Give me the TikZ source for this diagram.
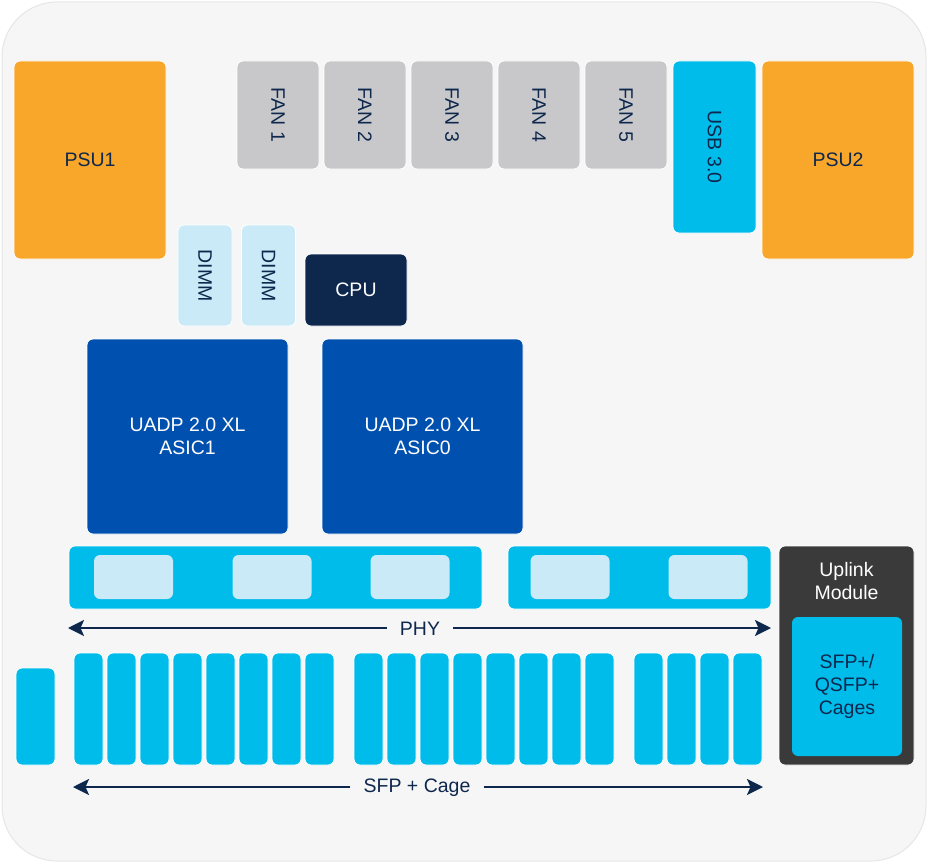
\documentclass[tikz,border=0pt]{standalone}
\usepackage{fontspec}
\usepackage{graphicx}
\setmainfont{Liberation Sans}
\usetikzlibrary{arrows.meta}
\definecolor{bgfill}{HTML}{F6F6F6}
\definecolor{bgline}{HTML}{E6E6E6}
\definecolor{psuorange}{HTML}{F9A72B}
\definecolor{fangrey}{HTML}{C8C8CA}
\definecolor{cyanblk}{HTML}{00BCEB}
\definecolor{lightblk}{HTML}{C9EAF6}
\definecolor{navy}{HTML}{0D274D}
\definecolor{asicblue}{HTML}{0051AF}
\definecolor{darkmod}{HTML}{3A3A3A}
\tikzset{
  x=1pt, y=-1pt,
  blk/.style={draw=white, line width=0.8pt, rounded corners=6pt, inner sep=0pt,
    align=center, text=navy, font=\fontsize{19.5}{23}\selectfont},
  psu/.style={blk, fill=psuorange, minimum width=152pt, minimum height=198pt},
  fan/.style={blk, fill=fangrey, minimum width=82pt, minimum height=108pt},
  dimm/.style={blk, fill=lightblk, minimum width=54pt, minimum height=101pt},
  asic/.style={blk, fill=asicblue, text=white, minimum width=201pt, minimum height=195pt},
  phybar/.style={blk, fill=cyanblk, minimum height=63pt},
  phyport/.style={blk, draw=none, fill=lightblk, minimum width=79pt, minimum height=44pt},
  cage/.style={blk, fill=cyanblk, minimum width=29pt, minimum height=112pt},
  lbl/.style={inner sep=0pt, text=navy, font=\fontsize{19.5}{23}\selectfont},
  arr/.style={draw=navy, line width=2.2pt, -{Stealth[length=16pt,width=16pt,inset=3.5pt]}},
}
\begin{document}
\begin{tikzpicture}
\useasboundingbox (0,0) rectangle (929,864);
\fill[white] (0,0) rectangle (929,864);
\draw[bgline, fill=bgfill, line width=1pt, rounded corners=55pt] (2,2) rectangle (926,861);

% power supplies
\node[psu] (psu1) at (90,160) {PSU1};
\node[psu] (psu2) at (838,160) {PSU2};

% fans
\foreach \i in {1,...,5} {
  \node[fan] (fan\i) at ({278+87*(\i-1)},115) {\rotatebox{-90}{FAN \i}};
}
\node[blk, fill=cyanblk, minimum width=83pt, minimum height=172pt] (usb) at (714.5,147) {\rotatebox{-90}{USB 3.0}};

% memory and cpu
\node[dimm] (dimm1) at (205,275.5) {\rotatebox{-90}{DIMM}};
\node[dimm] (dimm2) at (268.5,275.5) {\rotatebox{-90}{DIMM}};
\node[blk, fill=navy, text=white, minimum width=102pt, minimum height=72pt] (cpu) at (356,290) {CPU};

% asics
\node[asic] (asic1) at (187.5,436.5) {UADP 2.0 XL\\ASIC1};
\node[asic] (asic0) at (422.5,436.5) {UADP 2.0 XL\\ASIC0};

% phy bars
\node[phybar, minimum width=413pt] (phyA) at (275.5,577.5) {};
\node[phybar, minimum width=263pt] (phyB) at (639.5,577.5) {};
\node[phyport] (pp1) at (133.5,577) {};
\node[phyport] (pp2) at (272,577) {};
\node[phyport] (pp3) at (410,577) {};
\node[phyport] (pp4) at (570,577) {};
\node[phyport] (pp5) at (708,577) {};

% PHY arrow
\node[lbl] (phy) at (420,629) {PHY};
\coordinate (phyL) at (68,628);
\coordinate (phyR) at (771,628);
\draw[arr] ([xshift=-13pt]phy.west |- phyL) -- (phyL);
\draw[arr] ([xshift=13pt]phy.east |- phyR) -- (phyR);

% sfp cages
\node[blk, fill=cyanblk, minimum width=39pt, minimum height=97pt] (cage0) at (35.5,716.5) {};
\foreach \i in {0,...,7} {
  \node[cage] (cageA\i) at ({88.5+33*\i},709) {};
  \node[cage] (cageB\i) at ({368.5+33*\i},709) {};
}
\foreach \i in {0,...,3} {
  \node[cage] (cageC\i) at ({648.5+33*\i},709) {};
}

% SFP arrow
\node[lbl] (sfp) at (417,788) {SFP + Cage};
\coordinate (sfpL) at (73,787);
\coordinate (sfpR) at (763,787);
\draw[arr] ([xshift=-13pt]sfp.west |- sfpL) -- (sfpL);
\draw[arr] ([xshift=13pt]sfp.east |- sfpR) -- (sfpR);

% uplink module
\node[blk, fill=darkmod, minimum width=135pt, minimum height=219pt] (uplink) at (846.5,655.5) {};
\node[lbl, text=white, align=center] (uplinklbl) at (846.5,581.5) {Uplink\\Module};
\node[blk, draw=none, fill=cyanblk, minimum width=110pt, minimum height=139pt] (cages) at (847,686.5) {SFP+/\\QSFP+\\Cages};
\end{tikzpicture}
\end{document}
